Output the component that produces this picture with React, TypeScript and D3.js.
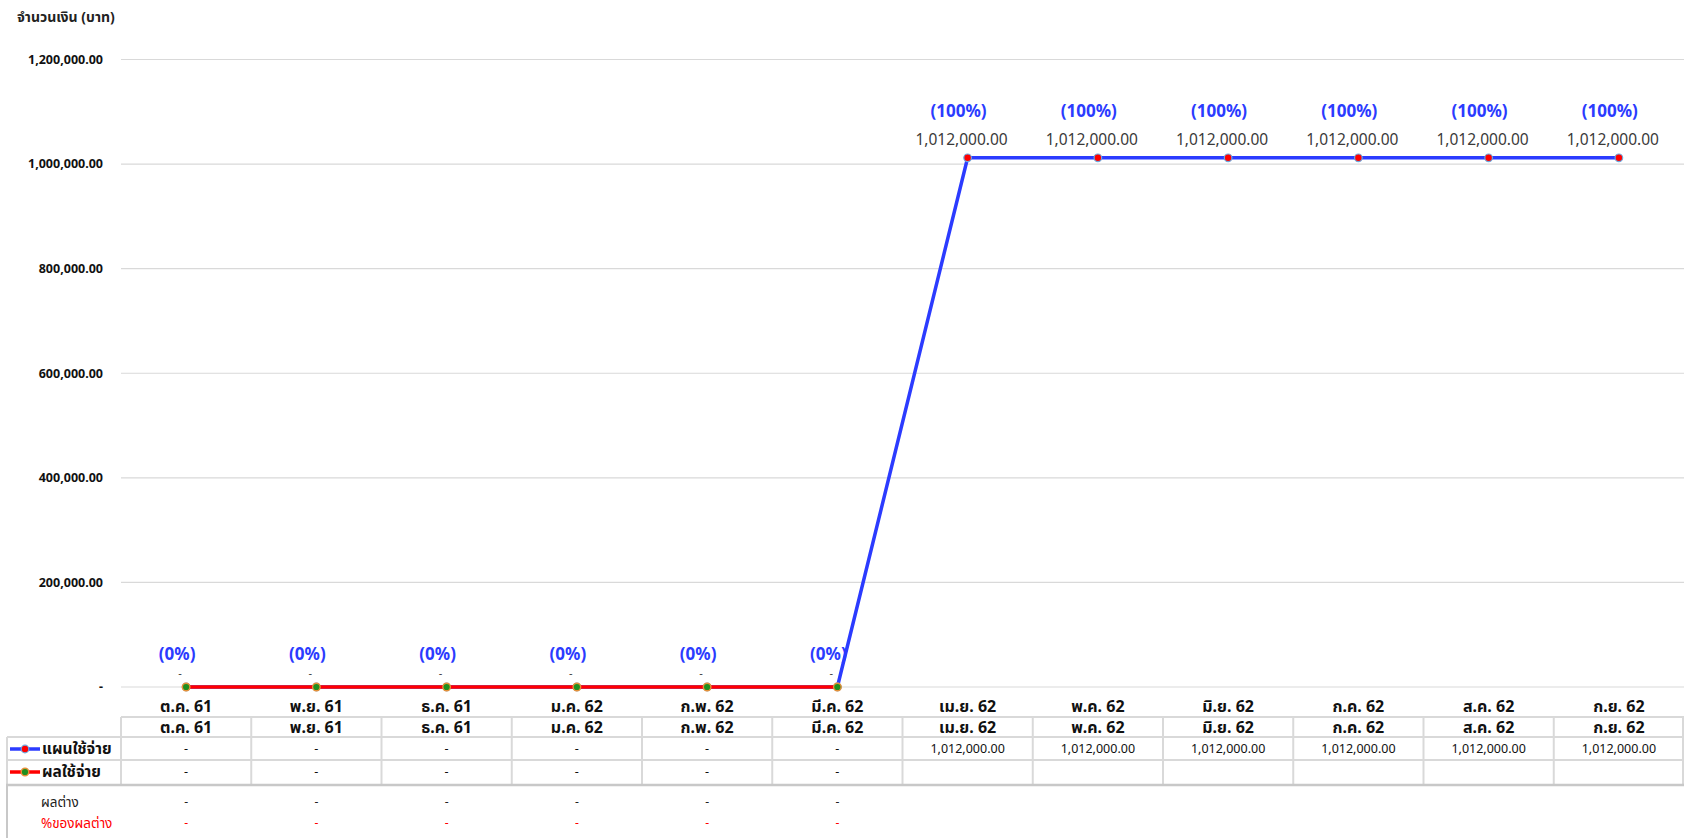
import * as React from 'react';
import * as d3 from 'd3';

const months = ['ต.ค. 61', 'พ.ย. 61', 'ธ.ค. 61', 'ม.ค. 62', 'ก.พ. 62', 'มี.ค. 62', 'เม.ย. 62', 'พ.ค. 62', 'มิ.ย. 62', 'ก.ค. 62', 'ส.ค. 62', 'ก.ย. 62'];
const planValues: (number | null)[] = [0, 0, 0, 0, 0, 0, 1012000, 1012000, 1012000, 1012000, 1012000, 1012000];
const actualValues: (number | null)[] = [0, 0, 0, 0, 0, 0, null, null, null, null, null, null];
const planPct = [0, 0, 0, 0, 0, 0, 100, 100, 100, 100, 100, 100];
const diffValues: (number | null)[] = [0, 0, 0, 0, 0, 0, null, null, null, null, null, null];
const diffPct: (number | null)[] = [0, 0, 0, 0, 0, 0, null, null, null, null, null, null];
const yTicks = [0, 200000, 400000, 600000, 800000, 1000000, 1200000];

const W = 1684;
const H = 838;
const FONT = "'Noto Sans', 'Noto Sans Thai', Tahoma, sans-serif";
const BLUE = '#2b3bff';
const RED = '#ff0000';
const GRID = '#d9d9d9';

const fmt = d3.format(',.2f');
const money = (v: number | null) => (v === null ? '' : v === 0 ? '-' : fmt(v));

export default function App() {
  const x = d3.scaleBand<string>().domain(months).range([121, W]);
  const y = d3.scaleLinear().domain([0, 1200000]).range([687, 59.5]);
  const cx = (m: string) => (x(m) as number) + x.bandwidth() / 2;

  const line = d3
    .line<[string, number | null]>()
    .defined(d => d[1] !== null)
    .x(d => cx(d[0]))
    .y(d => y(d[1] as number));

  const planPts = months.map((m, i) => [m, planValues[i]] as [string, number | null]);
  const actPts = months.map((m, i) => [m, actualValues[i]] as [string, number | null]);

  // table rows
  const hdrTop = 717, hdrBot = 737, r2Bot = 760, r3Bot = 784;

  return (
    <svg width={W} height={H} style={{position: 'absolute', left: 0, top: 0, display: 'block', background: '#fff'}} fontFamily={FONT}>
      <text x={17} y={22} fontSize={14} fontWeight="bold" fill="#222">จำนวนเงิน (บาท)</text>

      {/* gridlines + y labels */}
      {yTicks.map(t => (
        <g key={t}>
          <line x1={121} x2={W} y1={y(t)} y2={y(t)} stroke={GRID} strokeWidth={1.2} />
          <text x={103} y={y(t)} dy="0.35em" textAnchor="end" fontSize={12.5} fontWeight="bold" fill="#111">
            {t === 0 ? '-' : fmt(t)}
          </text>
        </g>
      ))}

      {/* lines */}
      <path d={line(planPts) || ''} fill="none" stroke={BLUE} strokeWidth={3.5} />
      {planPts.map(([m, v]) => v === null ? null : (
        <circle key={'p' + m} cx={cx(m)} cy={y(v)} r={3.8} fill="#ff0000" stroke="#6fa8dc" strokeWidth={1.2} />
      ))}
      <path d={line(actPts) || ''} fill="none" stroke={RED} strokeWidth={3.5} />
      {actPts.map(([m, v]) => v === null ? null : (
        <circle key={'a' + m} cx={cx(m)} cy={y(v)} r={3.8} fill="#1f8f1f" stroke="#e69138" strokeWidth={1.4} />
      ))}

      {/* data labels */}
      {planPts.map(([m, v], i) => v === null ? null : (
        <g key={'l' + m}>
          <text x={cx(m) - 9} y={y(v) - (v === 0 ? 33 : 47)} dy="0.35em" textAnchor="middle" fontSize={17} fontWeight="bold" fill={BLUE}>
            {`(${planPct[i]}%)`}
          </text>
          <text x={cx(m) - 6} y={y(v) - (v === 0 ? 14 : 18)} dy="0.35em" textAnchor="middle" fontSize={v === 0 ? 11 : 15.5} fill="#3a3a3a">
            {money(v)}
          </text>
        </g>
      ))}

      {/* category axis labels */}
      {months.map(m => (
        <text key={'c' + m} x={cx(m)} y={706} dy="0.35em" textAnchor="middle" fontSize={16} fontWeight="bold" fill="#111">{m}</text>
      ))}

      {/* data table */}
      <g stroke={GRID} strokeWidth={2} fill="none">
        <line x1={121} x2={W} y1={hdrTop} y2={hdrTop} />
        <line x1={7} x2={W} y1={hdrBot} y2={hdrBot} />
        <line x1={7} x2={W} y1={r2Bot} y2={r2Bot} />
        <line x1={7} x2={7} y1={hdrBot} y2={r3Bot} />
        {months.map(m => (
          <line key={'v' + m} x1={x(m) as number} x2={x(m) as number} y1={hdrTop} y2={r3Bot} />
        ))}
        <line x1={W - 1} x2={W - 1} y1={hdrTop} y2={r3Bot} />
      </g>
      {months.map(m => (
        <text key={'h' + m} x={cx(m)} y={727} dy="0.35em" textAnchor="middle" fontSize={16} fontWeight="bold" fill="#111">{m}</text>
      ))}
      {months.map((m, i) => (
        <text key={'r2' + m} x={cx(m)} y={749} dy="0.35em" textAnchor="middle" fontSize={12.5} fill="#111">{money(planValues[i])}</text>
      ))}
      {months.map((m, i) => (
        <text key={'r3' + m} x={cx(m)} y={772} dy="0.35em" textAnchor="middle" fontSize={12.5} fill="#111">{money(actualValues[i])}</text>
      ))}

      {/* legend keys */}
      <line x1={10} x2={40} y1={749} y2={749} stroke={BLUE} strokeWidth={3.5} />
      <circle cx={25} cy={749} r={3.8} fill="#ff0000" stroke="#6fa8dc" strokeWidth={1.2} />
      <text x={42} y={749} dy="0.35em" fontSize={15.5} fontWeight="bold" fill="#111">แผนใช้จ่าย</text>
      <line x1={10} x2={40} y1={772} y2={772} stroke={RED} strokeWidth={3.5} />
      <circle cx={25} cy={772} r={3.8} fill="#1f8f1f" stroke="#e69138" strokeWidth={1.4} />
      <text x={42} y={772} dy="0.35em" fontSize={15.5} fontWeight="bold" fill="#111">ผลใช้จ่าย</text>

      {/* summary box */}
      <line x1={6} x2={W} y1={785} y2={785} stroke="#c8c8c8" strokeWidth={2.5} />
      <line x1={7} x2={7} y1={785} y2={H} stroke="#c8c8c8" strokeWidth={2} />
      <text x={41} y={802} dy="0.35em" fontSize={13.5} fill="#222">ผลต่าง</text>
      <text x={41} y={823} dy="0.35em" fontSize={13.5} fill={RED}>%ของผลต่าง</text>
      {months.map((m, i) => (
        <text key={'d' + m} x={cx(m)} y={802} dy="0.35em" textAnchor="middle" fontSize={12} fill="#222">{money(diffValues[i])}</text>
      ))}
      {months.map((m, i) => (
        <text key={'dp' + m} x={cx(m)} y={823} dy="0.35em" textAnchor="middle" fontSize={12} fill={RED}>{diffPct[i] === null ? '' : '-'}</text>
      ))}
    </svg>
  );
}
